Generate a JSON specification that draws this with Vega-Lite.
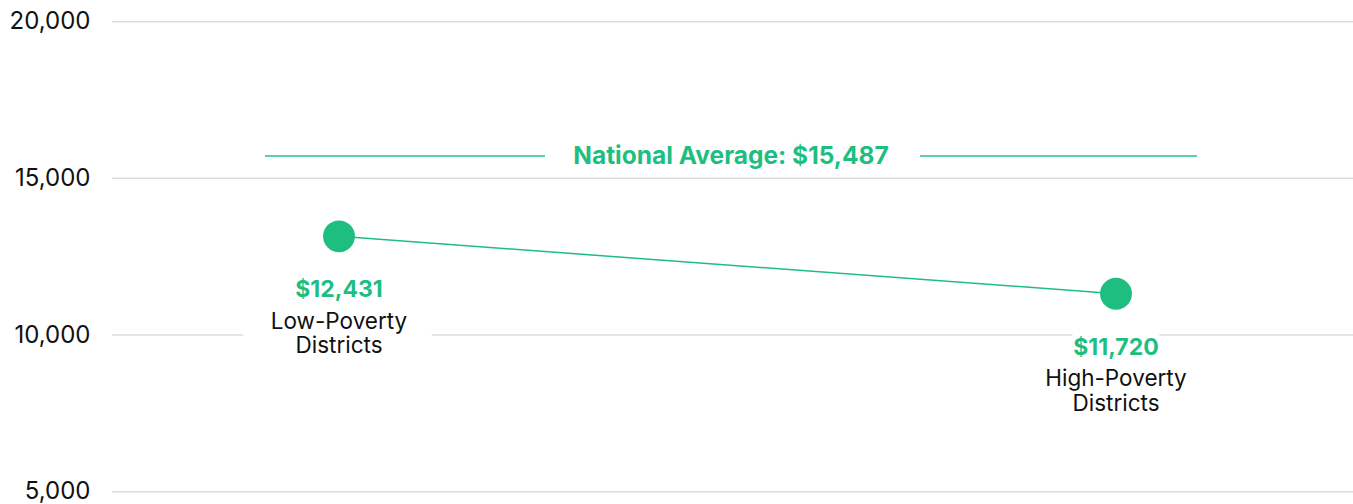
{
  "$schema": "https://vega.github.io/schema/vega-lite/v6.json",
  "width": 1241,
  "height": 470,
  "autosize": {"type": "none"},
  "padding": {"left": 112, "top": 21.7, "right": 0, "bottom": 12.3},
  "config": {"view": {"stroke": null}, "font": "Inter"},
  "datasets": {
    "districts": [
      {"district": "Low-Poverty", "name": "Low-Poverty\nDistricts", "value": 13150, "label": "$12,431"},
      {"district": "High-Poverty", "name": "High-Poverty\nDistricts", "value": 11320, "label": "$11,720"}
    ],
    "average": [{"label": "National Average: $15,487", "value": 15710}],
    "ticks": [{"tick": 5000}, {"tick": 10000}, {"tick": 15000}, {"tick": 20000}]
  },
  "layer": [
    {
      "data": {"name": "ticks"},
      "mark": {"type": "rule", "color": "#dddddd", "strokeWidth": 1.5},
      "encoding": {
        "y": {"field": "tick", "type": "quantitative", "scale": {"domain": [5000, 20000], "nice": false, "zero": false},
          "axis": {"values": [5000, 10000, 15000, 20000], "format": ",.0f", "domain": false, "ticks": false, "grid": false, "labelFontSize": 24, "labelColor": "#111111", "labelPadding": 22, "labelFont": "Inter", "title": null}}
      }
    },
    {
      "data": {"name": "districts"},
      "mark": {"type": "text", "align": "center", "baseline": "alphabetic", "dy": 61, "fontSize": 23, "fontWeight": "bold", "fill": "white", "stroke": "white", "strokeWidth": 12, "strokeJoin": "round"},
      "encoding": {
        "x": {"field": "district", "type": "nominal", "scale": {"type": "point", "domain": ["Low-Poverty", "High-Poverty"], "range": [227, 1004], "padding": 0}, "axis": null},
        "y": {"field": "value", "type": "quantitative"},
        "text": {"field": "label"}
      }
    },
    {
      "data": {"name": "districts"},
      "mark": {"type": "text", "align": "center", "baseline": "alphabetic", "dy": 92.5, "fontSize": 22.5, "lineBreak": "\n", "lineHeight": 24.5, "fill": "white", "stroke": "white", "strokeWidth": 60, "strokeJoin": "round"},
      "encoding": {
        "x": {"field": "district", "type": "nominal"},
        "y": {"field": "value", "type": "quantitative"},
        "text": {"field": "name"}
      }
    },
    {
      "data": {"name": "districts"},
      "mark": {"type": "line", "color": "#1ebe81", "strokeWidth": 1.5},
      "encoding": {
        "x": {"field": "district", "type": "nominal"},
        "y": {"field": "value", "type": "quantitative"}
      }
    },
    {
      "data": {"name": "districts"},
      "mark": {"type": "circle", "size": 1018, "color": "#1ebe81", "opacity": 1},
      "encoding": {
        "x": {"field": "district", "type": "nominal"},
        "y": {"field": "value", "type": "quantitative"}
      }
    },
    {
      "data": {"name": "districts"},
      "mark": {"type": "text", "align": "center", "baseline": "alphabetic", "dy": 61, "fontSize": 23, "fontWeight": "bold", "color": "#1ebe81"},
      "encoding": {
        "x": {"field": "district", "type": "nominal"},
        "y": {"field": "value", "type": "quantitative"},
        "text": {"field": "label"}
      }
    },
    {
      "data": {"name": "districts"},
      "mark": {"type": "text", "align": "center", "baseline": "alphabetic", "dy": 92.5, "fontSize": 22.5, "lineBreak": "\n", "lineHeight": 24.5, "color": "#111111"},
      "encoding": {
        "x": {"field": "district", "type": "nominal"},
        "y": {"field": "value", "type": "quantitative"},
        "text": {"field": "name"}
      }
    },
    {
      "data": {"name": "average"},
      "mark": {"type": "rule", "xOffset": -74, "x2Offset": 206, "color": "#5cd1a3", "strokeWidth": 2},
      "encoding": {
        "x": {"datum": "Low-Poverty"},
        "x2": {"datum": "Low-Poverty"},
        "y": {"field": "value", "type": "quantitative"}
      }
    },
    {
      "data": {"name": "average"},
      "mark": {"type": "rule", "xOffset": -196, "x2Offset": 81, "color": "#5cd1a3", "strokeWidth": 2},
      "encoding": {
        "x": {"datum": "High-Poverty"},
        "x2": {"datum": "High-Poverty"},
        "y": {"field": "value", "type": "quantitative"}
      }
    },
    {
      "data": {"name": "average"},
      "mark": {"type": "text", "align": "center", "baseline": "alphabetic", "dx": 392, "dy": 8.3, "fontSize": 24.5, "fontWeight": "bold", "color": "#1ebe81"},
      "encoding": {
        "x": {"datum": "Low-Poverty"},
        "y": {"field": "value", "type": "quantitative"},
        "text": {"field": "label"}
      }
    }
  ]
}
